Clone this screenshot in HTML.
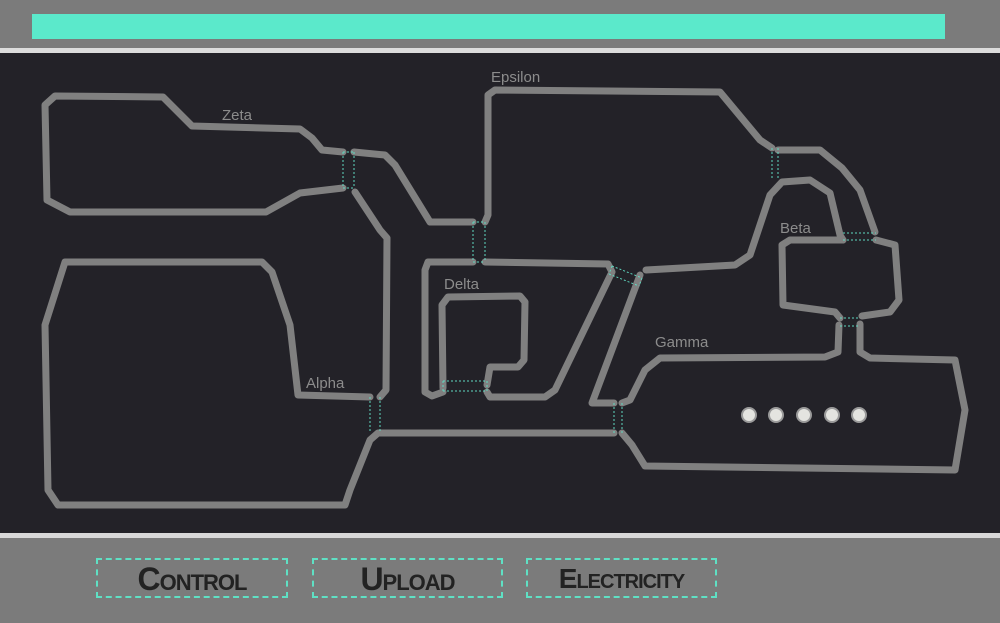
<!DOCTYPE html>
<html><head><style>
html,body{margin:0;padding:0;width:1000px;height:623px;overflow:hidden;background:#7b7b7b;font-family:"Liberation Sans",sans-serif}
.btn{position:absolute;top:558px;height:40px;border:2px dashed #5fe0c4;box-sizing:border-box;color:#222;font-weight:bold;font-size:32px;font-variant:small-caps;text-align:center;line-height:38px;letter-spacing:-1px;transform-origin:center}
</style></head><body>
<div style="position:absolute;left:32px;top:14px;width:913px;height:25px;background:#5be9cb"></div>
<div style="position:absolute;left:0;top:48px;width:1000px;height:5px;background:#dcdcdc"></div>
<div style="position:absolute;left:0;top:53px;width:1000px;height:480px;background:#232228"></div>
<div style="position:absolute;left:0;top:533px;width:1000px;height:5px;background:#d8d8d8"></div>
<svg style="position:absolute;left:0;top:0" width="1000" height="623">
<g fill="none" stroke="#808080" stroke-width="7" stroke-linejoin="round" stroke-linecap="round">
<path d="M343,188 L300,193 L266,212 L70,212 L47,200 L45,105 L55,96 L163,97 L192,126 L300,129 L312,138 L322,150 L343,152"/>
<path d="M354,152 L385,155 L395,165 L430,222 L473,222"/>
<path d="M485,222 L488,215 L488,95 L495,90 L720,92 L760,140 L772,148"/>
<path d="M778,150 L820,150 L842,168 L860,190 L875,232"/>
<path d="M876,240 L895,245 L899,300 L890,312 L862,316"/>
<path d="M860,324 L860,352 L870,358 L955,360 L965,410 L955,470 L645,466 L632,445 L622,433"/>
<path d="M614,433 L378,433 L370,440 L350,490 L345,505 L58,505 L48,490 L45,325 L65,262 L262,262 L272,272 L290,325 L298,395 L370,397"/>
<path d="M380,397 L386,390 L387,238 L380,230 L355,192"/>
<path d="M614,403 L592,403 L640,275"/>
<path d="M646,270 L735,265 L750,255 L770,195 L782,182 L810,180 L830,193 L840,235 L843,240"/>
<path d="M843,240 L790,240 L782,245 L783,305 L835,312 L840,318"/>
<path d="M839,325 L838,352 L825,357 L660,358 L645,370 L630,400 L622,403"/>
<path d="M473,262 L428,262 L425,270 L425,392 L432,396 L443,392"/>
<path d="M487,392 L490,397 L545,397 L555,390 L612,272 L608,264 L485,262"/>
<path d="M443,388 L442,305 L448,297 L520,296 L525,302 L524,360 L518,367 L490,367 L487,385"/>
</g>
<g fill="none" stroke="#5fd8c0" stroke-width="1" stroke-dasharray="2,2">
<path d="M343,152 L343,188 M354,152 L354,188 M343,152 H354 M343,188 H354"/>
<path d="M473,222 V262 M485,222 V262 M473,222 H485 M473,262 H485"/>
<path d="M772,148 V180 M778,148 V180"/>
<path d="M843,233 H876 M843,240 H876"/>
<path d="M840,318 H860 M840,326 H860"/>
<path d="M443,381 H487 M443,391 H487 M443,381 V391 M487,381 V391"/>
<path d="M612,266 L642,278 M609,274 L639,286 M612,266 L609,274 M642,278 L639,286"/>
<path d="M370,397 V433 M380,397 V433"/>
<path d="M614,403 V433 M622,403 V433"/>
</g>
<g fill="#8c8c8c" font-family="Liberation Sans,sans-serif" font-size="15">
<text x="222" y="120">Zeta</text><text x="491" y="82">Epsilon</text>
<text x="780" y="233">Beta</text><text x="444" y="289">Delta</text>
<text x="655" y="347">Gamma</text><text x="306" y="388">Alpha</text>
</g>
<g fill="#e4e4e0" stroke="#9a9a9a" stroke-width="2">
<circle cx="749" cy="415" r="7"/><circle cx="776" cy="415" r="7"/><circle cx="804" cy="415" r="7"/><circle cx="832" cy="415" r="7"/><circle cx="859" cy="415" r="7"/>
</g>
</svg>
<div class="btn" style="left:96px;width:192px">Control</div>
<div class="btn" style="left:312px;width:191px">Upload</div>
<div class="btn" style="left:526px;width:191px;font-size:28px">Electricity</div>
</body></html>
